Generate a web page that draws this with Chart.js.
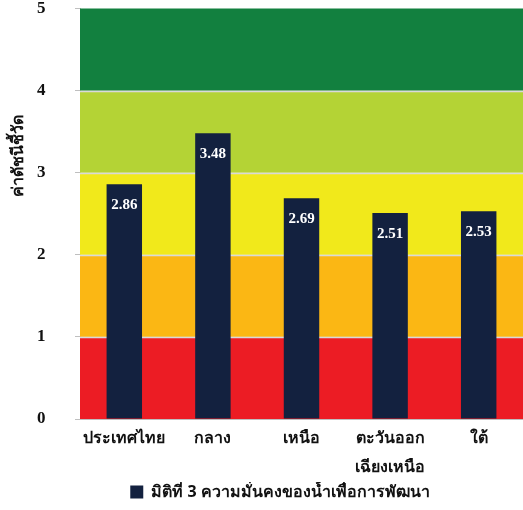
<!DOCTYPE html>
<html>
<head>
<meta charset="utf-8">
<script src="https://cdn.jsdelivr.net/npm/chart.js@4"></script>
<style>
  html, body { margin:0; padding:0; background:#fff; }
  #wrap { width:523px; height:510px; position:relative; }
</style>
</head>
<body>
<div id="wrap"><canvas id="chart" width="523" height="510"></canvas></div>
<script>
// chart data
const regions = ['ประเทศไทย', 'กลาง', 'เหนือ', ['ตะวันออก', 'เฉียงเหนือ'], 'ใต้'];
const scores = [2.86, 3.48, 2.69, 2.51, 2.53];
const seriesName = 'มิติที่ 3 ความมั่นคงของน้ำเพื่อการพัฒนา';
const yTicks = [0, 1, 2, 3, 4, 5];
// background bands (from, to)
const bandFrom = [0, 1, 2, 3, 4];
const bandTo = [1, 2, 3, 4, 5];
const bandColors = ['#ec1c24', '#fbb714', '#f1e91b', '#b4d335', '#12803f'];

const thaiFont = "'Noto Sans', 'DejaVu Sans', sans-serif";
const numFont = "'Liberation Serif', 'DejaVu Serif', serif";

// paint the coloured bands behind the bars
const bandsPlugin = {
  id: 'bands',
  beforeDatasetsDraw(chart) {
    const { ctx, chartArea, scales } = chart;
    ctx.save();
    bandFrom.forEach((f, i) => {
      const y1 = scales.y.getPixelForValue(bandTo[i]);
      const y0 = scales.y.getPixelForValue(f);
      ctx.fillStyle = bandColors[i];
      ctx.fillRect(chartArea.left, y1, chartArea.right - chartArea.left, y0 - y1);
    });
    // thin light lines between bands
    ctx.strokeStyle = '#d9d9d9';
    ctx.lineWidth = 1.5;
    bandTo.slice(0, -1).forEach(v => {
      const y = Math.round(scales.y.getPixelForValue(v)) + 0.5;
      ctx.beginPath();
      ctx.moveTo(chartArea.left, y);
      ctx.lineTo(chartArea.right, y);
      ctx.stroke();
    });
    ctx.restore();
  }
};

// value labels inside bar tops + y title
const labelsPlugin = {
  id: 'valueLabels',
  afterDatasetsDraw(chart) {
    const { ctx } = chart;
    const meta = chart.getDatasetMeta(0);
    ctx.save();
    ctx.fillStyle = '#ffffff';
    ctx.font = "bold 15px " + numFont;
    ctx.textAlign = 'center';
    ctx.textBaseline = 'middle';
    meta.data.forEach((bar, i) => {
      ctx.fillText(scores[i].toFixed(2), bar.x, bar.y + 21);
    });
    ctx.restore();

    ctx.save();
    ctx.translate(18, 156);
    ctx.rotate(-Math.PI / 2);
    ctx.fillStyle = '#111';
    ctx.font = "bold 16px " + thaiFont;
    ctx.textAlign = 'center';
    ctx.textBaseline = 'middle';
    ctx.fillText('ค่าดัชนีชี้วัด', 0, 0);
    ctx.restore();
  }
};

new Chart(document.getElementById('chart'), {
  type: 'bar',
  data: {
    labels: regions,
    datasets: [{
      label: seriesName,
      data: scores,
      backgroundColor: '#13213f',
      borderWidth: 0,
      categoryPercentage: 1,
      barPercentage: 0.4
    }]
  },
  options: {
    responsive: false,
    animation: false,
    layout: { padding: { left: 37, top: 3, right: 0, bottom: 0 } },
    plugins: {
      legend: {
        position: 'bottom',
        labels: {
          color: '#111',
          font: { family: thaiFont, size: 16, weight: 'bold' },
          boxWidth: 13,
          boxHeight: 13,
          padding: 2
        }
      },
      tooltip: { enabled: false }
    },
    scales: {
      x: {
        grid: { display: false, drawTicks: false },
        border: { color: '#bfbfbf' },
        afterFit: axis => { axis.height = 63; },
        ticks: {
          color: '#111',
          font: { family: thaiFont, size: 16, weight: 'bold', lineHeight: 1.8 },
          padding: 5,
          maxRotation: 0,
          autoSkip: false
        }
      },
      y: {
        min: 0,
        max: 5,
        afterBuildTicks: axis => { axis.ticks = yTicks.map(v => ({ value: v })); },
        afterFit: axis => { axis.width = 43; },
        grid: { display: true, drawOnChartArea: false, drawTicks: true, tickLength: 5, color: '#bfbfbf' },
        border: { color: '#bfbfbf' },
        ticks: {
          color: '#111',
          font: { family: numFont, size: 17, weight: 'bold', lineHeight: 1 },
          padding: 0,
          crossAlign: 'far'
        }
      }
    }
  },
  plugins: [bandsPlugin, labelsPlugin]
});
</script>
</body>
</html>
